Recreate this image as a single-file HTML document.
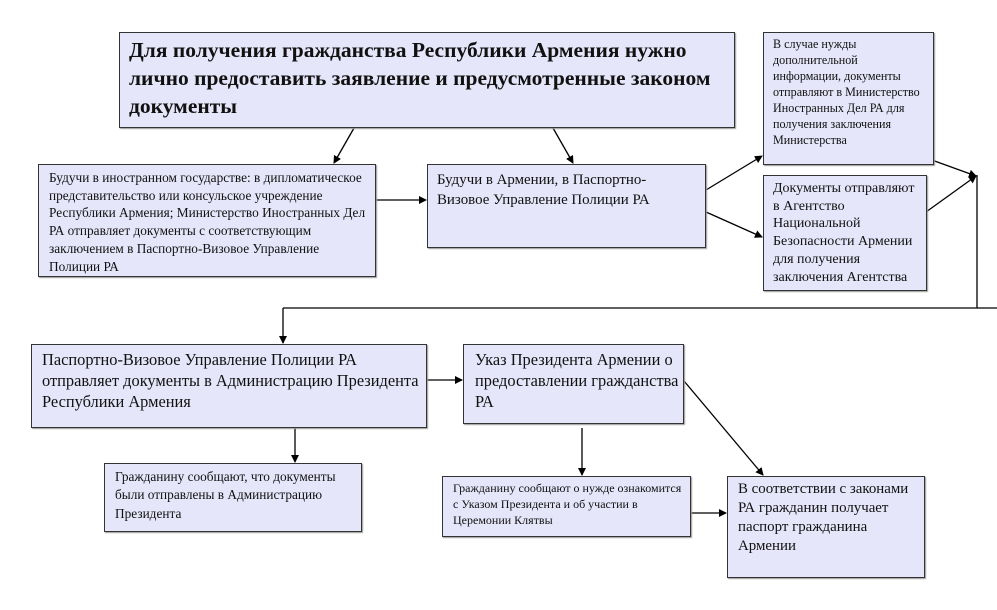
<!DOCTYPE html>
<html><head><meta charset="utf-8"><style>
body{margin:0;width:997px;height:610px;background:#fff;position:relative;overflow:hidden;font-family:"Liberation Serif",serif;color:#111}
.b{position:absolute;box-sizing:border-box;background:#e6e6fa;border:1.5px solid #333;box-shadow:1px 1px 1px #999;white-space:nowrap}
svg{position:absolute;left:0;top:0}
</style></head><body>
<svg width="997" height="610">
<defs><marker id="a" markerWidth="8" markerHeight="8" refX="7" refY="4" orient="auto" markerUnits="userSpaceOnUse"><path d="M0,0 L8,4 L0,8 z" fill="#000"/></marker></defs>
<g stroke="#000" stroke-width="1.3" fill="none">
<line x1="354" y1="128" x2="334" y2="163" marker-end="url(#a)"/>
<line x1="553" y1="128" x2="573" y2="163" marker-end="url(#a)"/>
<line x1="376" y1="200" x2="426" y2="200" marker-end="url(#a)"/>
<line x1="706" y1="190" x2="762" y2="156" marker-end="url(#a)"/>
<line x1="706" y1="212" x2="762" y2="237" marker-end="url(#a)"/>
<line x1="918" y1="155" x2="976" y2="176" marker-end="url(#a)"/>
<line x1="926" y1="212" x2="976" y2="176" marker-end="url(#a)"/>
<line x1="977" y1="175" x2="977" y2="308"/>
<line x1="997" y1="308" x2="283" y2="308"/>
<line x1="283" y1="308" x2="283" y2="343" marker-end="url(#a)"/>
<line x1="427" y1="380" x2="462" y2="380" marker-end="url(#a)"/>
<line x1="295" y1="428" x2="295" y2="462" marker-end="url(#a)"/>
<line x1="582" y1="428" x2="582" y2="475" marker-end="url(#a)"/>
<line x1="684" y1="381" x2="763" y2="475" marker-end="url(#a)"/>
<line x1="691" y1="513" x2="726" y2="513" marker-end="url(#a)"/>
</g></svg>

<div class="b" style="left:119px;top:32px;width:616px;height:96px;padding:3px 0 0 9px;font-weight:bold;font-size:21.5px;line-height:28px">Для получения гражданства Республики Армения нужно<br>лично предоставить заявление и предусмотренные законом<br>документы</div>

<div class="b" style="left:38px;top:164px;width:338px;height:113px;padding:4px 0 0 10px;font-size:13.3px;line-height:17.7px">Будучи в иностранном государстве: в дипломатическое<br>представительство или консульское учреждение<br>Республики Армения; Министерство Иностранных Дел<br>РА отправляет документы с соответствующим<br>заключением в Паспортно-Визовое Управление<br>Полиции РА</div>

<div class="b" style="left:427px;top:164px;width:279px;height:84px;padding:5px 0 0 9px;font-size:14.9px;line-height:20px">Будучи в Армении, в Паспортно-<br>Визовое Управление Полиции РА</div>

<div class="b" style="left:763px;top:32px;width:171px;height:133px;padding:3px 0 0 9px;font-size:12.1px;line-height:16px">В случае нужды<br>дополнительной<br>информации, документы<br>отправляют в Министерство<br>Иностранных Дел РА для<br>получения заключения<br>Министерства</div>

<div class="b" style="left:763px;top:175px;width:164px;height:116px;padding:4px 0 0 9px;font-size:14px;line-height:17.7px">Документы отправляют<br>в Агентство<br>Национальной<br>Безопасности Армении<br>для получения<br>заключения Агентства</div>

<div class="b" style="left:31px;top:344px;width:396px;height:84px;padding:4px 0 0 10px;font-size:16.4px;line-height:21px">Паспортно-Визовое Управление Полиции РА<br>отправляет документы в Администрацию Президента<br>Республики Армения</div>

<div class="b" style="left:463px;top:344px;width:221px;height:80px;padding:4px 0 0 11px;font-size:16.4px;line-height:21px">Указ Президента Армении о<br>предоставлении гражданства<br>РА</div>

<div class="b" style="left:104px;top:463px;width:258px;height:69px;padding:4px 0 0 10px;font-size:13.3px;line-height:18.3px">Гражданину сообщают, что документы<br>были отправлены в Администрацию<br>Президента</div>

<div class="b" style="left:442px;top:476px;width:249px;height:61px;padding:3px 0 0 10px;font-size:12px;line-height:16px">Гражданину сообщают о нужде ознакомится<br>с Указом Президента и об участии в<br>Церемонии Клятвы</div>

<div class="b" style="left:727px;top:476px;width:198px;height:102px;padding:3px 0 0 10px;font-size:14.9px;line-height:19px">В соответствии с законами<br>РА гражданин получает<br>паспорт гражданина<br>Армении</div>
</body></html>
